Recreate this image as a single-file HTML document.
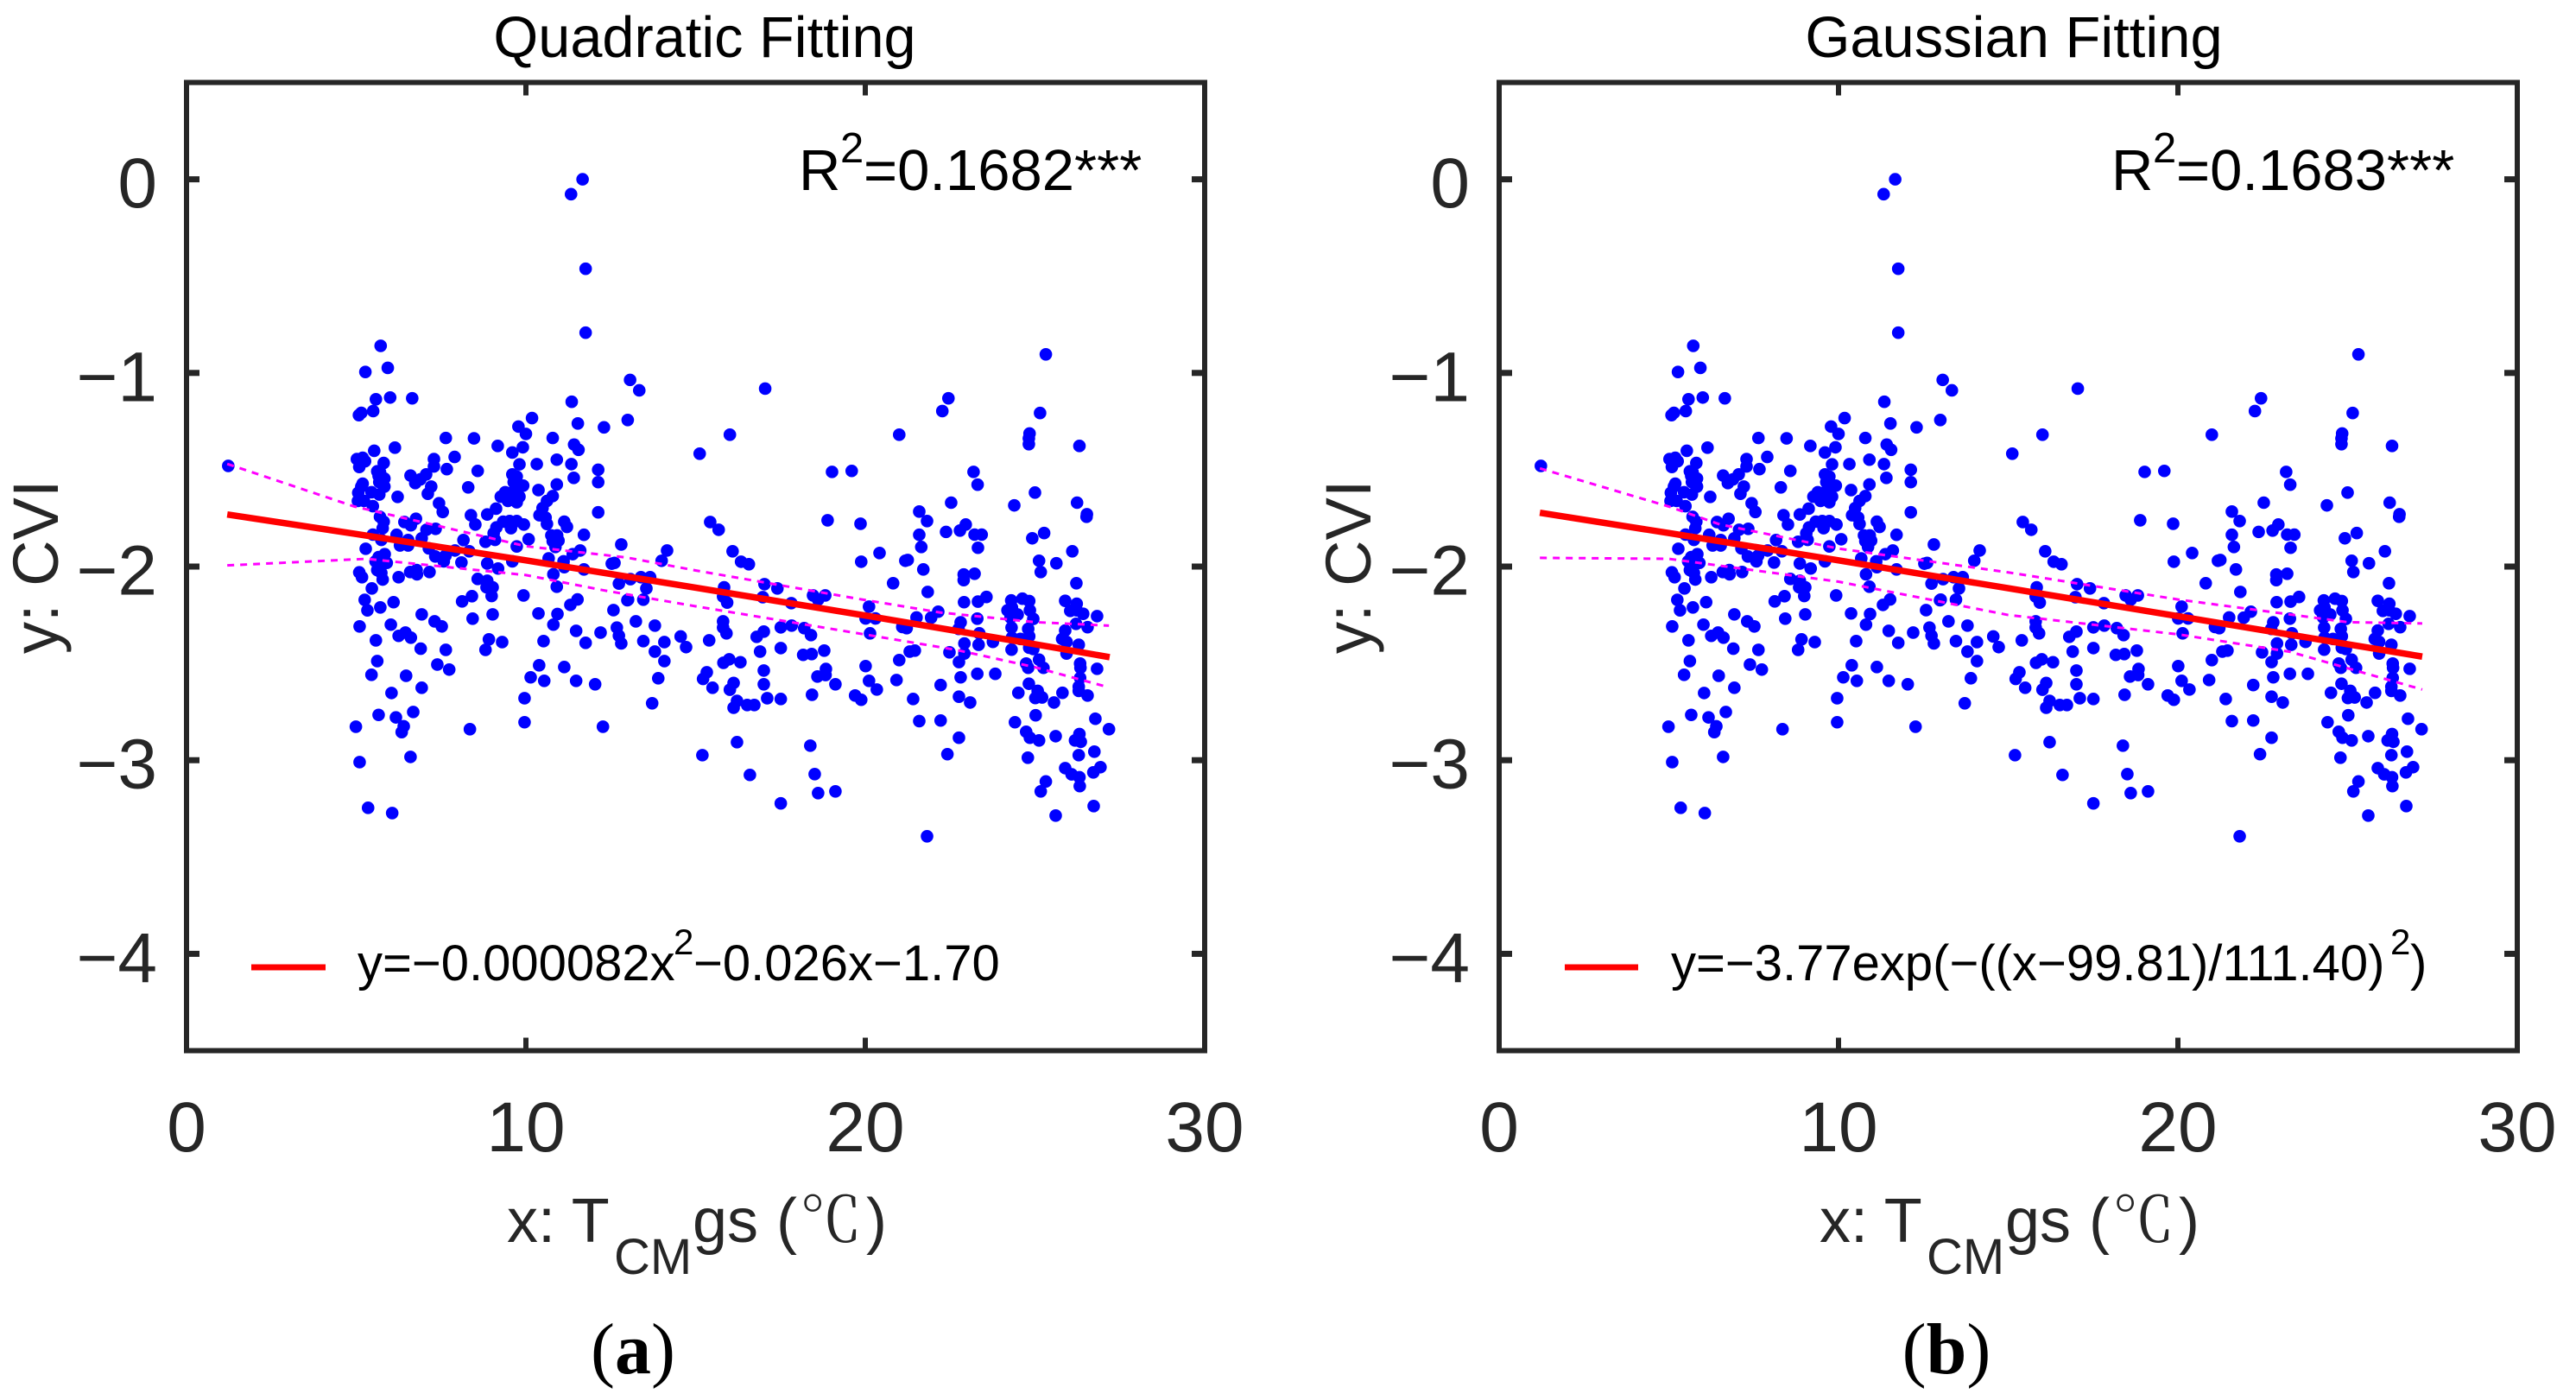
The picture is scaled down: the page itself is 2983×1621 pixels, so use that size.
<!DOCTYPE html>
<html lang="en">
<head>
<meta charset="utf-8">
<title>Quadratic and Gaussian fitting of CVI against temperature</title>
<style>
html,body{margin:0;padding:0;background:#fff;}
svg{display:block;}
text{font-family:"Liberation Sans",Arial,sans-serif;}
</style>
</head>
<body>
<svg id="figure" xmlns="http://www.w3.org/2000/svg" width="2983" height="1621" viewBox="0 0 2983 1621">
  <rect x="0" y="0" width="2983" height="1621" fill="#fff"/>

  <g id="panel-a"></g>
  <g id="panel-b"></g>

  <text x="816" y="66" font-size="66.7" text-anchor="middle" fill="#000">Quadratic Fitting</text>
  <text x="2332" y="66" font-size="66.9" text-anchor="middle" fill="#000">Gaussian Fitting</text>

  <text fill="#000" font-size="67"><tspan x="925" y="220">R</tspan><tspan x="973" y="188" font-size="49">2</tspan><tspan x="1000" y="220">=0.1682***</tspan></text>
  <text fill="#000" font-size="67"><tspan x="2445" y="220">R</tspan><tspan x="2493" y="188" font-size="49">2</tspan><tspan x="2520" y="220">=0.1683***</tspan></text>

  <line x1="291" x2="377" y1="1120" y2="1120" stroke="#f00" stroke-width="7"/>
  <text fill="#000" font-size="58"><tspan x="414" y="1135">y=−0.000082x</tspan><tspan x="780" y="1105" font-size="42">2</tspan><tspan x="803" y="1135">−0.026x−1.70</tspan></text>
  <line x1="1812" x2="1897" y1="1120" y2="1120" stroke="#f00" stroke-width="7"/>
  <text fill="#000" font-size="58"><tspan x="1935" y="1135">y=−3.77exp(−((x−99.81)/111.40)</tspan><tspan x="2768" y="1105" font-size="42">2</tspan><tspan x="2791" y="1135">)</tspan></text>

  <text transform="translate(67,757) rotate(-90)" font-size="74" fill="#262626">y: CVI</text>
  <text transform="translate(1587,757) rotate(-90)" font-size="74" fill="#262626">y: CVI</text>

  <text fill="#262626" font-size="72"><tspan x="587" y="1438">x: T</tspan><tspan x="711" y="1475" font-size="58">CM</tspan><tspan x="802" y="1438">gs</tspan><tspan x="899" y="1438">(</tspan><tspan x="926" y="1438" style="font-family:'Noto Serif CJK SC',serif">℃</tspan><tspan x="1003" y="1438">)</tspan></text>
  <text fill="#262626" font-size="72"><tspan x="2107" y="1438">x: T</tspan><tspan x="2231" y="1475" font-size="58">CM</tspan><tspan x="2322" y="1438">gs</tspan><tspan x="2419" y="1438">(</tspan><tspan x="2446" y="1438" style="font-family:'Noto Serif CJK SC',serif">℃</tspan><tspan x="2523" y="1438">)</tspan></text>

  <text x="733" y="1590" font-size="84" text-anchor="middle" fill="#000" style="font-family:'Liberation Serif',serif">(<tspan font-weight="bold">a</tspan>)</text>
  <text x="2254" y="1590" font-size="84" text-anchor="middle" fill="#000" style="font-family:'Liberation Serif',serif">(<tspan font-weight="bold">b</tspan>)</text>
</svg>

<script>
const xTickValues = [0, 10, 20, 30];
const yTickValues = [0, -1, -2, -3, -4];

const tempValues = [
1.23,11.67,11.33,11.76,11.76,5.72,5.27,5.93,5.58,6.0,6.65,5.5,5.15,5.08,13.07,13.34,11.35,13.0,10.18,11.53,12.3,9.78,10.0,7.64,8.47,10.79,6.14,9.17,11.42,11.55,9.91,9.6,5.53,7.9,
5.02,5.19,5.26,5.09,5.81,5.62,5.7,5.66,5.83,5.68,5.83,5.19,5.06,5.45,5.68,5.15,5.05,5.23,5.49,6.22,7.29,7.29,7.06,6.6,6.89,6.74,7.21,7.11,7.67,8.58,8.3,7.44,7.55,
10.32,10.91,11.34,9.81,12.13,11.41,12.13,10.91,9.6,9.73,9.64,9.92,9.73,10.37,10.79,10.62,10.49,10.4,10.58,10.62,9.39,9.26,9.47,9.73,9.81,9.6,12.13,9.12,8.86,8.38,8.51,11.13,11.21,11.71,
9.94,9.73,9.52,9.33,9.56,9.13,9.05,9.09,8.81,8.16,10.75,10.92,10.79,10.96,10.87,10.08,9.73,12.81,11.6,11.38,8.33,7.91,7.63,7.33,7.58,7.14,6.93,7.34,7.07,6.76,6.42,6.61,5.81,5.7,5.78,5.49,5.74,6.19,6.53,6.29,6.53,5.28,5.84,5.66,5.57,5.9,5.62,5.74,5.78,5.09,5.17,6.25,6.59,6.78,6.79,7.16,8.1,8.86,9.18,9.6,10.67,11.11,11.13,11.71,12.53,12.61,10.81,10.91,12.74,12.99,
8.58,8.86,8.84,9.02,8.99,9.93,8.41,8.12,5.46,5.25,5.33,5.71,6.1,11.52,11.31,12.58,10.93,10.37,9.02,6.93,8.43,7.31,7.52,6.02,5.1,10.81,11.48,12.2,12.68,12.74,12.81,11.76,10.52,9.3,8.91,8.81,7.64,6.9,6.45,6.25,6.61,5.58,5.62,7.39,7.74,10.39,11.13,10.14,10.54,11.48,12.04,5.45,6.47,6.93,6.04,9.96,6.68,5.66,6.17,
4.99,6.4,6.34,8.35,9.96,12.27,5.1,6.6,5.35,6.06,
16.01,21.0,15.12,19.02,19.6,15.43,15.68,18.89,19.86,21.59,21.82,21.59,21.65,14.16,14.0,16.09,16.34,16.57,19.88,20.42,21.18,21.25,21.71,20.82,21.84,13.39,13.66,13.08,13.55,13.01,13.46,15.84,15.81,15.93,17.03,17.41,16.98,17.82,18.46,18.82,18.61,20.11,20.01,20.3,21.51,21.09,21.22,20.14,13.24,13.8,15.81,15.81,15.91,17.01,16.8,17.51,17.83,18.2,18.4,17.51,16.9,18.79,18.42,18.17,21.46,21.31,21.0,20.01,20.11,20.92,20.34,21.41,21.59,13.46,14.08,13.8,14.08,14.56,14.72,15.4,13.9,13.72,15.99,15.82,16.32,17.01,15.33,15.22,15.5,16.12,16.01,17.01,17.11,17.51,16.22,16.12,16.52,16.73,18.84,18.83,18.59,19.12,18.43,19.7,19.88,
16.22,18.38,15.2,18.51,16.6,18.61,19.12,17.51,
22.38,22.96,22.79,23.22,23.43,23.32,24.92,25.27,26.1,25.12,25.63,25.17,26.52,26.22,22.9,23.22,22.9,22.91,23.32,23.57,24.3,24.63,24.83,24.19,24.32,24.4,24.49,24.28,24.85,24.95,25.89,26.23,26.04,26.23,26.42,26.83,26.21,26.55,25.89,25.8,25.93,26.29,25.93,22.15,21.94,23.3,22.81,22.75,23.36,24.31,24.8,24.83,24.32,24.57,22.92,23.34,23.76,24.31,24.83,24.95,22.92,22.48,22.76,24.74,24.8,25.12,25.25,26.33,26.34,26.83,26.33,26.29,26.29,23.3,23.83,22.81,24.82,25.08,25.01,25.21,24.51,25.81,25.56,26.55,22.22,22.76,23.09,22.22,24.41,25.02,26.78,27.18,24.74,24.85,25.12,25.61,26.31,26.18,26.35,22.76,22.42,24.79,26.29,26.75,25.89,26.08,26.31,26.93,26.72,
25.32,25.17,26.32,26.73,25.61,21.82,
25.32,25.15,22.45,22.27,17.05,24.84,24.82,24.82,26.31,23.19,23.31,22.53,25.0,26.24,26.53,24.39
];

const cviValues = [
-1.48,0.0,-0.077,-0.462,-0.792,-0.86,-0.995,-0.974,-1.136,-1.127,-1.131,-1.197,-1.206,-1.218,-1.036,-1.09,-1.149,-1.243,-1.233,-1.261,-1.281,-1.277,-1.315,-1.336,-1.338,-1.336,-1.386,-1.377,-1.37,-1.397,-1.384,-1.411,-1.402,-1.434,
-1.445,-1.438,-1.456,-1.486,-1.465,-1.508,-1.512,-1.532,-1.545,-1.564,-1.587,-1.572,-1.619,-1.616,-1.628,-1.587,-1.661,-1.661,-1.688,-1.64,-1.445,-1.483,-1.524,-1.53,-1.55,-1.569,-1.587,-1.624,-1.497,-1.506,-1.591,-1.673,-1.718,
-1.471,-1.448,-1.471,-1.472,-1.5,-1.542,-1.564,-1.576,-1.524,-1.535,-1.564,-1.582,-1.587,-1.605,-1.636,-1.661,-1.698,-1.735,-1.747,-1.78,-1.616,-1.639,-1.661,-1.668,-1.639,-1.616,-1.72,-1.701,-1.731,-1.735,-1.783,-1.768,-1.795,-1.836,
-1.783,-1.765,-1.765,-1.768,-1.802,-1.798,-1.828,-1.862,-1.872,-1.863,-1.839,-1.839,-1.869,-1.866,-1.899,-1.859,-1.896,-1.886,-1.917,-1.936,-1.921,-1.917,-1.944,-1.948,-1.973,-1.906,-1.854,-1.805,-1.81,-1.753,-1.77,-1.787,-1.768,-1.743,-1.802,-1.835,-1.862,-1.836,-1.863,-1.891,-1.891,-1.908,-1.936,-1.951,-1.973,-1.981,-2.018,-2.033,-2.067,-2.03,-2.055,-2.055,-2.028,-2.018,-2.04,-2.028,-1.979,-1.984,-2.01,-1.973,-1.958,-1.973,-2.003,-2.015,-1.985,-1.981,-2.04,-2.104,-2.088,-2.174,
-2.064,-2.073,-2.107,-2.107,-2.152,-2.149,-2.153,-2.18,-2.113,-2.172,-2.226,-2.211,-2.184,-2.17,-2.198,-2.225,-2.245,-2.242,-2.247,-2.247,-2.269,-2.283,-2.309,-2.3,-2.309,-2.3,-2.332,-2.341,-2.315,-2.357,-2.397,-2.394,-2.385,-2.39,-2.376,-2.43,-2.43,-2.424,-2.341,-2.358,-2.367,-2.381,-2.488,-2.506,-2.532,-2.51,-2.519,-2.572,-2.59,-2.59,-2.608,-2.559,-2.564,-2.626,-2.653,-2.68,-2.751,-2.766,-2.779,
-2.827,-2.825,-2.855,-2.84,-2.804,-2.827,-3.01,-2.983,-3.246,-3.273,
-1.319,-1.319,-1.417,-1.511,-1.506,-1.77,-1.81,-1.761,-1.779,-1.716,-1.765,-1.836,-1.899,-1.917,-1.97,-1.921,-1.975,-1.988,-1.975,-1.93,-1.97,-1.966,-2.015,-2.086,-2.131,-2.055,-2.055,-2.065,-2.113,-2.171,-2.171,-2.107,-2.155,-2.186,-2.091,-2.113,-2.158,-2.189,-2.149,-2.149,-2.171,-2.207,-2.268,-2.268,-2.263,-2.312,-2.318,-2.345,-2.283,-2.305,-2.283,-2.315,-2.345,-2.336,-2.363,-2.314,-2.305,-2.318,-2.354,-2.421,-2.439,-2.434,-2.452,-2.456,-2.434,-2.439,-2.483,-2.514,-2.59,-2.586,-2.635,-2.684,-2.798,-2.385,-2.39,-2.439,-2.488,-2.361,-2.416,-2.381,-2.577,-2.706,-2.479,-2.497,-2.494,-2.537,-2.546,-2.58,-2.626,-2.601,-2.636,-2.608,-2.68,-2.684,-2.694,-2.729,-2.715,-2.715,-2.529,-2.56,-2.568,-2.608,-2.662,-2.666,-2.688,
-2.907,-2.925,-2.974,-3.072,-3.076,-3.17,-3.161,-3.223,
-1.821,-1.783,-1.814,-1.835,-1.835,-1.903,-1.854,-1.827,-1.921,-1.97,-1.983,-2.028,-1.743,-2.086,-2.041,-2.037,-2.07,-2.184,-2.181,-2.157,-2.175,-2.166,-2.178,-2.226,-2.211,-2.241,-2.248,-2.263,-2.226,-2.27,-2.177,-2.192,-2.229,-2.226,-2.244,-2.256,-2.296,-2.313,-2.33,-2.374,-2.389,-2.404,-2.449,-2.233,-2.264,-2.269,-2.288,-2.322,-2.345,-2.315,-2.322,-2.36,-2.367,-2.374,-2.397,-2.404,-2.389,-2.429,-2.419,-2.426,-2.449,-2.443,-2.493,-2.501,-2.523,-2.481,-2.523,-2.501,-2.523,-2.528,-2.575,-2.62,-2.642,-2.554,-2.554,-2.572,-2.605,-2.642,-2.679,-2.676,-2.652,-2.652,-2.702,-2.666,-2.612,-2.672,-2.702,-2.795,-2.804,-2.768,-2.786,-2.84,-2.853,-2.884,-2.898,-2.876,-2.865,-2.898,-2.905,-2.884,-2.969,-2.987,-2.974,-2.956,-3.041,-3.073,-3.088,-3.036,-3.063,
-3.11,-3.161,-3.134,-3.237,-3.286,-3.393,
-0.904,-1.207,-1.131,-1.197,-1.081,-1.313,-1.338,-1.368,-1.377,-1.511,-1.577,-1.67,-1.618,-1.67,-1.73,-1.684
];

const fitTemps = [1.2, 5, 10, 15, 20, 25, 27.2];
const quadFitValues = [-1.731, -1.832, -1.968, -2.109, -2.253, -2.401, -2.468];
const gaussFitValues = [-1.722, -1.827, -1.968, -2.112, -2.256, -2.401, -2.465];

const quadUpperTemps = [1.2, 4.95, 10, 12.96, 15, 20, 22.2, 25, 27.18];
const quadUpperValues = [-1.47, -1.69, -1.895, -1.953, -2.02, -2.173, -2.237, -2.287, -2.305];
const quadLowerTemps = [1.2, 5.3, 10, 12.3, 15, 20, 22.7, 25, 27.18];
const quadLowerValues = [-1.994, -1.96, -2.044, -2.123, -2.205, -2.351, -2.431, -2.52, -2.624];

const gaussUpperTemps = [1.2, 5, 6.5, 10, 15, 20, 25, 27.2];
const gaussUpperValues = [-1.493, -1.69, -1.782, -1.907, -2.03, -2.17, -2.287, -2.294];
const gaussLowerTemps = [1.2, 5, 10, 15, 20, 23.3, 27.2];
const gaussLowerValues = [-1.955, -1.96, -2.078, -2.25, -2.35, -2.44, -2.635];

const NS = 'http://www.w3.org/2000/svg';
const FRAME_COLOR = '#262626';

function xScale(originX, v) { return originX + 39.3 * v; }
function yScale(v) { return 207.6 - 224.2 * v; }

function makeEl(parent, tag, props) {
  const el = document.createElementNS(NS, tag);
  for (const k in props) el.setAttribute(k, props[k]);
  parent.appendChild(el);
  return el;
}

function linePath(originX, xs, ys) {
  return xs.map((v, i) => (i ? 'L' : 'M') + xScale(originX, v).toFixed(2) + ' ' + yScale(ys[i]).toFixed(2)).join(' ');
}

function drawPanel(id, originX, fitValues, upX, upY, loX, loY) {
  const g = document.getElementById(id);
  const left = xScale(originX, 0), right = xScale(originX, 30);
  const top = yScale(0.5), bottom = yScale(-4.5);

  const dots = makeEl(g, 'g', { fill: '#0000ff' });
  
  
  tempValues.forEach((t, i) => {
    const c = makeEl(dots, 'circle', { cx: xScale(originX, t).toFixed(2), cy: yScale(cviValues[i]).toFixed(2), r: 7.3 });
    
    
  });

  const upper = makeEl(g, 'path', { d: linePath(originX, upX, upY), fill: 'none', stroke: '#ff00ff', 'stroke-width': 3, 'stroke-dasharray': '8 7' });
  
  

  const lower = makeEl(g, 'path', { d: linePath(originX, loX, loY), fill: 'none', stroke: '#ff00ff', 'stroke-width': 3, 'stroke-dasharray': '8 7' });
  
  

  const fit = makeEl(g, 'path', { d: linePath(originX, fitTemps, fitValues), fill: 'none', stroke: '#ff0000', 'stroke-width': 7.5 });
  
  

  const frame = makeEl(g, 'rect', { x: left, y: top, width: right - left, height: bottom - top, fill: 'none', stroke: FRAME_COLOR, 'stroke-width': 6 });
  
  

  xTickValues.forEach(v => {
    const px = xScale(originX, v);
    if (v > 0 && v < 30) {
      const t1 = makeEl(g, 'line', { x1: px, x2: px, y1: top, y2: top + 15, stroke: FRAME_COLOR, 'stroke-width': 6 });
      
      
      const t2 = makeEl(g, 'line', { x1: px, x2: px, y1: bottom, y2: bottom - 15, stroke: FRAME_COLOR, 'stroke-width': 6 });
      
      
    }
    const lab = makeEl(g, 'text', { x: px, y: 1333, 'font-size': 82, 'text-anchor': 'middle', fill: FRAME_COLOR });
    
    
    lab.textContent = String(v);
  });

  yTickValues.forEach(v => {
    const py = yScale(v);
    const t1 = makeEl(g, 'line', { x1: left, x2: left + 15, y1: py, y2: py, stroke: FRAME_COLOR, 'stroke-width': 7 });
    
    
    const t2 = makeEl(g, 'line', { x1: right, x2: right - 15, y1: py, y2: py, stroke: FRAME_COLOR, 'stroke-width': 7 });
    
    
    const lab = makeEl(g, 'text', { x: left - 34, y: py + 32.5, 'font-size': 82, 'text-anchor': 'end', fill: FRAME_COLOR });
    
    
    lab.textContent = v < 0 ? '\u2212' + Math.abs(v) : String(v);
  });
}

drawPanel('panel-a', 216, quadFitValues, quadUpperTemps, quadUpperValues, quadLowerTemps, quadLowerValues);
drawPanel('panel-b', 1736, gaussFitValues, gaussUpperTemps, gaussUpperValues, gaussLowerTemps, gaussLowerValues);
</script>
</body>
</html>
